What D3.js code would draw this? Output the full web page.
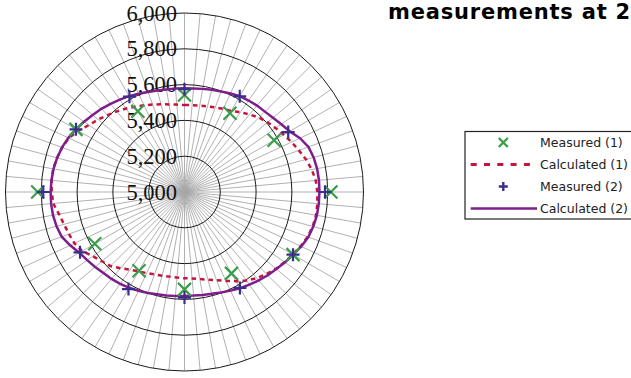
<!DOCTYPE html>
<html><head><meta charset="utf-8">
<script src="https://cdn.jsdelivr.net/npm/d3@7"></script>
<style>body{margin:0;background:#fff;overflow:hidden} svg{display:block}</style>
</head><body>
<svg id="c" width="631" height="378"></svg>
<script>
const angles = [0,5,10,15,20,25,30,35,40,45,50,55,60,65,70,75,80,85,90,95,100,105,110,115,
  120,125,130,135,140,145,150,155,160,165,170,175,180,185,190,195,200,205,210,215,220,225,230,235,
  240,245,250,255,260,265,270,275,280,285,290,295,300,305,310,315,320,325,330,335,340,345,350,355];
const calculated1 = [5486,5487,5490,5495,5503,5512,5523,5545,5565,5588,5606,5622,5640,5660,5680,5703,5722,5736,
  5742,5745,5746,5742,5732,5716,5698,5683,5667,5648,5628,5604,5575,5548,5525,5508,5494,5485,
  5482,5480,5480,5484,5490,5500,5512,5530,5556,5585,5602,5625,5660,5678,5687,5697,5712,5736,
  5742,5745,5745,5737,5727,5713,5685,5652,5630,5608,5588,5569,5550,5535,5520,5507,5497,5490];
const calculated2 = [5579,5581,5585,5591,5598,5607,5618,5624,5630,5635,5645,5660,5678,5712,5737,5747,5752,5754,
  5754,5753,5751,5745,5736,5720,5700,5685,5670,5658,5645,5632,5621,5608,5597,5589,5584,5581,
  5581,5583,5587,5591,5600,5609,5618,5626,5634,5640,5652,5664,5678,5705,5730,5740,5746,5748,
  5748,5746,5743,5737,5728,5716,5700,5685,5670,5657,5643,5630,5618,5606,5595,5587,5582,5580];
const measuredAngles = [0,30,60,90,120,150,180,210,240,270,300,330];
const measured1 = [5542,5508,5578,5818,5700,5525,5544,5508,5579,5820,5700,5521];
const measured2 = [5574,5617,5669,5785,5700,5619,5590,5626,5674,5789,5700,5615];
const radialTicks = [5000,5200,5400,5600,5800,6000];
const seriesNames = ["Measured (1)","Calculated (1)","Measured (2)","Calculated (2)"];
const titleText = "measurements at 2";

const colors = {m1:"#3a9d4a", c1:"#c8143c", m2:"#3b2d8c", c2:"#7d1e8c"};
const svg = d3.select("#c");
const cx = 184.5, cy = 192, R = 179;
const g = svg.append("g").attr("transform",`translate(${cx},${cy})`);
const r = d3.scaleLinear().domain([5000,6000]).range([0,R]);
const a = d3.scaleLinear().domain([0,360]).range([0,2*Math.PI]);
const fmt = d3.format(",");

// spokes
g.selectAll("line.spoke").data(angles).join("line")
  .attr("x1",0).attr("y1",0)
  .attr("x2",d=>R*Math.sin(a(d))).attr("y2",d=>-R*Math.cos(a(d)))
  .attr("stroke","#a8a8a8").attr("stroke-width",0.9);
// circles
g.selectAll("circle.grid").data(radialTicks.filter(t=>t>5000)).join("circle")
  .attr("r",d=>r(d)).attr("fill","none").attr("stroke","#1a1a1a").attr("stroke-width",1);
// labels
g.selectAll("text.tick").data(radialTicks).join("text")
  .attr("x",-7.5).attr("y",d=>-r(d)+7.5)
  .attr("text-anchor","end")
  .attr("font-family","'Liberation Serif','DejaVu Serif',serif")
  .attr("font-size",22.5).attr("fill","#111")
  .text(d=>fmt(d));

const line = d3.lineRadial().angle(d=>a(d[0])).radius(d=>r(d[1])).curve(d3.curveLinearClosed);
g.append("path").datum(angles.map((d,i)=>[d,calculated1[i]]))
  .attr("d",line).attr("fill","none").attr("stroke",colors.c1)
  .attr("stroke-width",2.5).attr("stroke-dasharray","4.5,4");
g.append("path").datum(angles.map((d,i)=>[d,calculated2[i]]))
  .attr("d",line).attr("fill","none").attr("stroke",colors.c2)
  .attr("stroke-width",2.5);

const xPath = s=>`M${-s},${-s}L${s},${s}M${-s},${s}L${s},${-s}`;
const pPath = s=>`M${-s},0L${s},0M0,${-s}L0,${s}`;
const pos = (ang,v)=>[r(v)*Math.sin(a(ang)), -r(v)*Math.cos(a(ang))];
g.selectAll("path.m1").data(measuredAngles.map((d,i)=>[d,measured1[i]])).join("path")
  .attr("transform",d=>`translate(${pos(d[0],d[1])})`)
  .attr("d",xPath(6.5)).attr("stroke",colors.m1).attr("stroke-width",2.2).attr("fill","none");
g.selectAll("path.m2").data(measuredAngles.map((d,i)=>[d,measured2[i]])).join("path")
  .attr("transform",d=>`translate(${pos(d[0],d[1])})`)
  .attr("d",pPath(6.5)).attr("stroke",colors.m2).attr("stroke-width",2.2).attr("fill","none");

// title
svg.append("text").attr("x",388).attr("y",18.5)
  .attr("font-family","'DejaVu Sans',Verdana,sans-serif").attr("font-weight","bold")
  .attr("font-size",21).attr("letter-spacing",0.8).attr("fill","#000").text(titleText);

// legend
const lx = 465, ly = 131.5;
svg.append("rect").attr("x",lx).attr("y",ly).attr("width",200).attr("height",87.5)
  .attr("fill","#fff").attr("stroke","#222").attr("stroke-width",1.2);
const ey = i=>142.5 + i*22;
const leg = svg.append("g");
leg.append("path").attr("transform",`translate(503.3,${ey(0)})`).attr("d",xPath(4.5))
  .attr("stroke",colors.m1).attr("stroke-width",2.4);
leg.append("line").attr("x1",470.7).attr("x2",530).attr("y1",ey(1)).attr("y2",ey(1))
  .attr("stroke",colors.c1).attr("stroke-width",3).attr("stroke-dasharray","6,7.3");
leg.append("path").attr("transform",`translate(503.3,${ey(2)})`).attr("d",pPath(4.5))
  .attr("stroke",colors.m2).attr("stroke-width",2.4);
leg.append("line").attr("x1",470.7).attr("x2",537).attr("y1",ey(3)).attr("y2",ey(3))
  .attr("stroke",colors.c2).attr("stroke-width",2.5);
leg.selectAll("text").data(seriesNames).join("text")
  .attr("x",540).attr("y",(d,i)=>ey(i)+4.3)
  .attr("font-family","'DejaVu Sans',Verdana,sans-serif").attr("font-size",12.5)
  .attr("fill","#222").text(d=>d);
</script>
</body></html>
